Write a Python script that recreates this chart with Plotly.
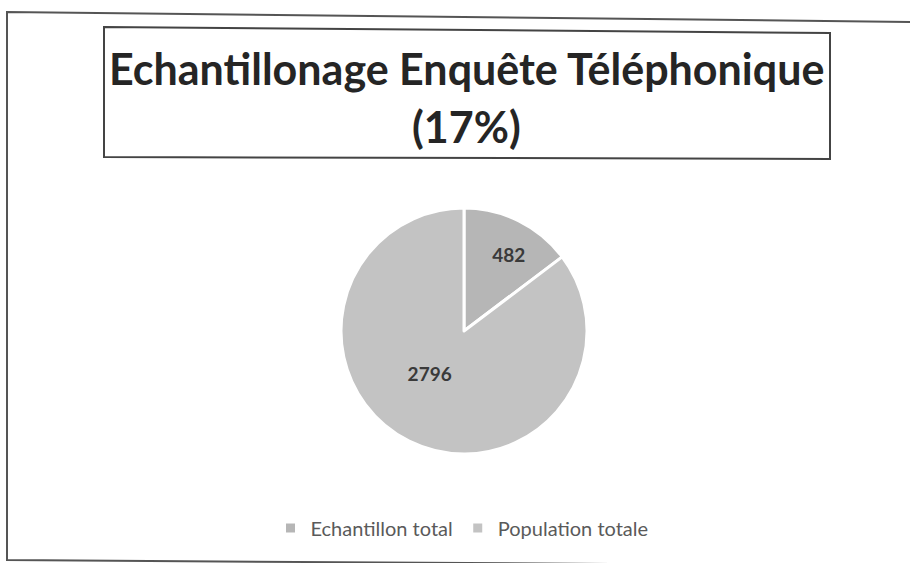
import plotly.graph_objects as go

labels = ["Echantillon total", "Population totale"]
values = [482, 2796]
colors = ["#b6b6b6", "#c3c3c3"]
title_lines = ["Echantillonage Enquête Téléphonique", "(17%)"]

W, H = 910, 563

def px(x):
    return x / W

def py(y):
    return 1 - y / H

cx, cy, r = 464, 331, 123

fig = go.Figure(go.Pie(
    labels=labels,
    values=values,
    sort=False,
    direction="clockwise",
    rotation=0,
    marker=dict(colors=colors, line=dict(color="white", width=3)),
    texttemplate=["&nbsp;&nbsp;&nbsp;%{value}", "%{value}&nbsp;&nbsp;&nbsp;<br> "],
    textposition="inside",
    insidetextorientation="horizontal",
    textfont=dict(family="Lato", size=19, color="#3a3a3a", weight="bold"),
    domain=dict(x=[px(cx - r), px(cx + r)], y=[py(cy + r), py(cy - r)]),
    hoverinfo="label+value",
))

shapes = [
    dict(type="path", xref="paper", yref="paper",
         path=f"M {px(912)} {py(22)} L {px(7)} {py(12)} L {px(7)} {py(560)} L {px(912)} {py(566)}",
         line=dict(color="#555555", width=2)),
    dict(type="path", xref="paper", yref="paper",
         path=f"M {px(104)} {py(27)} L {px(830)} {py(33)} L {px(830)} {py(159)} L {px(104)} {py(157)} Z",
         line=dict(color="#444444", width=2)),
]

fig.update_layout(
    width=W, height=H,
    margin=dict(l=0, r=0, t=0, b=0),
    paper_bgcolor="white",
    plot_bgcolor="white",
    shapes=shapes,
    annotations=[
        dict(text=title_lines[0], xref="paper", yref="paper", x=px(467), y=py(68),
             showarrow=False, xanchor="center", yanchor="middle",
             font=dict(family="Lato", size=43, color="#252525", weight="bold")),
        dict(text=title_lines[1], xref="paper", yref="paper", x=px(467), y=py(127),
             showarrow=False, xanchor="center", yanchor="middle",
             font=dict(family="Lato", size=43, color="#252525", weight="bold")),
    ],
    showlegend=True,
    legend=dict(orientation="h", x=px(462), xanchor="center", y=py(528), yanchor="middle",
                font=dict(family="Lato", size=20, color="#5a5a5a"),
                itemwidth=30, bgcolor="rgba(0,0,0,0)"),
)

fig.write_html("out.html", config={"displayModeBar": False},
               post_script="document.body.style.margin='0';")
